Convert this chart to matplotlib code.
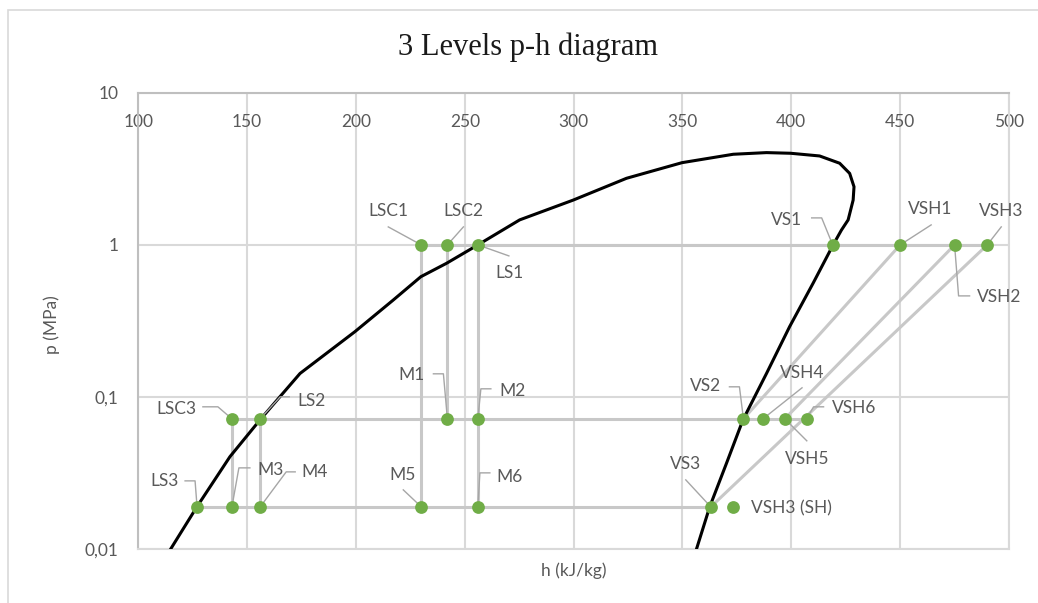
import numpy as np
import matplotlib.pyplot as plt
from matplotlib.patches import Rectangle

# --- data (h in kJ/kg, p in MPa) ---
high_names = ['LSC1', 'LSC2', 'LS1', 'VS1', 'VSH1', 'VSH2', 'VSH3']
high_h = [230, 242, 256, 419, 450, 475, 490]
p_high = 1.0

mid_names = ['LSC3', 'LS2', 'M1', 'M2', 'VS2', 'VSH4', 'VSH5', 'VSH6']
mid_h = [143, 156, 242, 256, 378, 387, 397, 407]
p_mid = 0.072

low_names = ['LS3', 'M3', 'M4', 'M5', 'M6', 'VS3', 'VSH3 (SH)']
low_h = [127, 143, 156, 230, 256, 363, 373]
p_low = 0.019

# grey process lines between named points
links = [('LSC1', 'VSH3'), ('LSC3', 'VSH6'), ('LS3', 'VS3'),
         ('LSC1', 'M5'), ('LSC2', 'M1'), ('LS1', 'M6'),
         ('LSC3', 'M3'), ('LS2', 'M4'),
         ('VS2', 'VSH1'), ('VSH5', 'VSH2'), ('VS3', 'VSH3')]

# saturation dome
dome_h = [114.6, 126.8, 142.1, 155.9, 165.1, 174.3, 199.5, 217.1, 229.8, 241.6, 256,
          275.2, 299.8, 324.3, 349.8, 373.3, 388.6, 399.7, 413, 422.2, 426.8, 428.8,
          428.4, 426.1, 423, 419.2, 410, 399.2, 388.6, 377.8, 370.2, 362.5, 356.4]
dome_p = [0.0099, 0.0189, 0.0406, 0.0708, 0.1007, 0.143, 0.269, 0.434, 0.618, 0.757, 1.0,
          1.46, 1.97, 2.74, 3.47, 3.94, 4.04, 4.0, 3.84, 3.44, 2.95, 2.41,
          1.97, 1.46, 1.25, 1.0, 0.56, 0.29, 0.143, 0.071, 0.0367, 0.019, 0.01]

xticks = [100, 150, 200, 250, 300, 350, 400, 450, 500]
yticks = [0.01, 0.1, 1, 10]
ytick_labels = ['0,01', '0,1', '1', '10']

pts = {}
for n, h in zip(high_names, high_h):
    pts[n] = (h, p_high)
for n, h in zip(mid_names, mid_h):
    pts[n] = (h, p_mid)
for n, h in zip(low_names, low_h):
    pts[n] = (h, p_low)

# label layout: text offset in image pixels (x right, y down), alignment, leader path
label_layout = {
    'LSC1': ((-33, -34), 'center', [(-33, -18), (0, 0)]),
    'LSC2': ((16, -34), 'center', [(16, -18), (0, 0)]),
    'LS1': ((32, 28), 'center', [(31, 11), (0, 0)]),
    'VS1': ((-46, -25), 'center', [(-21, -27), (-11, -27), (0, 0)]),
    'VSH1': ((30, -36), 'center', [(31, -20), (0, 0)]),
    'VSH3': ((14, -34), 'center', [(14, -18), (0, 0)]),
    'VSH2': ((22, 52), 'left', [(0, 0), (4, 51), (15, 51)]),
    'LSC3': ((-35, -10), 'right', [(-29, -12), (-14, -12), (0, 0)]),
    'LS2': ((37, -18), 'left', [(29, -22), (20, -22), (0, 0)]),
    'M1': ((-23, -44), 'right', [(-14, -45), (-4, -45), (0, 0)]),
    'M2': ((22, -28), 'left', [(13, -30), (3, -30), (0, 0)]),
    'LS3': ((-18, -26), 'right', [(-12, -26), (-2, -26), (0, 0)]),
    'M3': ((25, -37), 'left', [(18, -39), (7, -39), (0, 0)]),
    'M4': ((41, -35), 'left', [(35, -35), (26, -35), (0, 0)]),
    'M5': ((-19, -32), 'center', [(-18, -17), (0, 0)]),
    'M6': ((19, -30), 'left', [(12, -34), (2, -34), (0, 0)]),
    'VS2': ((-22, -33), 'right', [(-14, -32), (-4, -32), (0, 0)]),
    'VSH4': ((39, -46), 'center', [(39, -31), (0, 0)]),
    'VSH5': ((22, 40), 'center', [(22, 22), (0, 0)]),
    'VSH6': ((25, -11), 'left', [(17, -12), (7, -12), (0, 0)]),
    'VS3': ((-25, -43), 'center', [(-25, -27), (0, 0)]),
    'VSH3 (SH)': ((18, 2), 'left', []),
}

W, H, DPI = 1038, 603, 100
txt_col = '#595959'
plt.rcParams['font.family'] = ['Lato', 'DejaVu Sans']

fig = plt.figure(figsize=(W / DPI, H / DPI), dpi=DPI)
ax = fig.add_axes([138.3 / W, 53.7 / H, (1009 - 138.3) / W, (549.3 - 92.7) / H])

# outer chart frame (runs off the right and bottom edges)
fig.patches.append(Rectangle((8 / W, -0.2), 2, 1.2 - 10.3 / H, transform=fig.transFigure,
                             fill=False, edgecolor='#d9d9d9', lw=1.2))

ax.set_yscale('log')
ax.set_xlim(100, 500)
ax.set_ylim(0.01, 10)
ax.set_xticks(xticks)
ax.set_yticks(yticks)
ax.set_yticklabels(ytick_labels)
ax.minorticks_off()
ax.grid(True, color='#d9d9d9', lw=1.5)
ax.set_axisbelow(True)
ax.tick_params(axis='x', top=True, labeltop=True, bottom=False, labelbottom=False,
               length=0, pad=-27, labelsize=12.5, labelcolor=txt_col)
ax.tick_params(axis='y', length=0, pad=14, labelsize=12.5, labelcolor=txt_col)
for s in ['top', 'left']:
    ax.spines[s].set_color('#bfbfbf')
    ax.spines[s].set_linewidth(1.5)
for s in ['bottom', 'right']:
    ax.spines[s].set_color('#d9d9d9')
    ax.spines[s].set_linewidth(1.5)

for a, b in links:
    ax.plot([pts[a][0], pts[b][0]], [pts[a][1], pts[b][1]], color='#c8c8c8', lw=2.2,
            solid_capstyle='butt', zorder=2)

ax.plot(dome_h, dome_p, color='black', lw=2.2, zorder=3, solid_joinstyle='round')

all_h = [pts[n][0] for n in pts]
all_p = [pts[n][1] for n in pts]
ax.plot(all_h, all_p, 'o', color='#70ad47', ms=9.2, mec='none', zorder=5, clip_on=False)

inv = ax.transData.inverted()
for name, (toff, ha, path) in label_layout.items():
    x0, y0 = ax.transData.transform(pts[name])
    ax.annotate(name, xy=pts[name], xytext=(toff[0], -toff[1]), textcoords='offset pixels',
                ha=ha, va='center', fontsize=12.5, color=txt_col, zorder=6)
    if path:
        disp = np.array([(x0 + dx, y0 - dy) for dx, dy in path])
        dat = inv.transform(disp)
        ax.plot(dat[:, 0], dat[:, 1], color='#a6a6a6', lw=1.0, zorder=4, clip_on=False)

fig.text(528 / W, 1 - 47 / H, '3 Levels p-h diagram', ha='center', va='center',
         fontsize=22, family='Liberation Serif', color='#1a1a1a')
fig.text(574 / W, 1 - 571 / H, 'h (kJ/kg)', ha='center', va='center', fontsize=12.5, color=txt_col)
fig.text(52 / W, 1 - 325 / H, 'p (MPa)', ha='center', va='center', rotation=90,
         fontsize=12.5, color=txt_col)

fig.savefig('out.png', dpi=DPI)
